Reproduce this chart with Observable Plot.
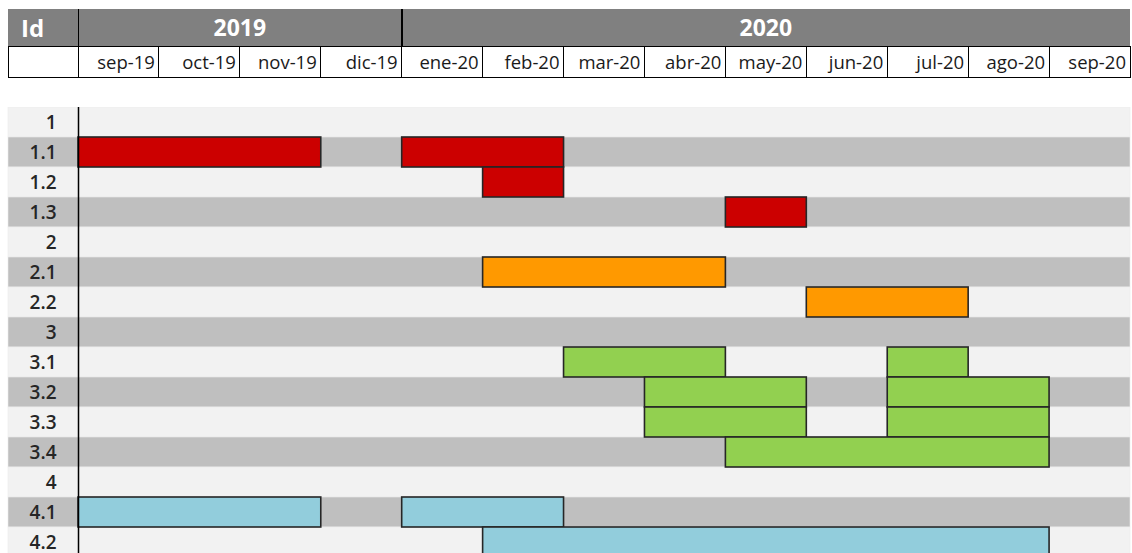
<!DOCTYPE html>
<html><head><meta charset="utf-8">
<script src="https://cdn.jsdelivr.net/npm/d3@7"></script>
<script src="https://cdn.jsdelivr.net/npm/@observablehq/plot@0.6"></script>
<style>
html,body{margin:0;padding:0;background:#fff;overflow:hidden;width:1132px;height:553px}
#wrap{position:relative;width:1132px;height:553px;font-family:"Open Sans",sans-serif}
.hd{position:absolute;box-sizing:border-box;white-space:nowrap}
</style></head><body><div id="wrap"></div>
<script>
// ---- data ----
const months = ["sep-19","oct-19","nov-19","dic-19","ene-20","feb-20","mar-20","abr-20","may-20","jun-20","jul-20","ago-20","sep-20"];
const yearLabels = ["2019","2020"];
const yearStart = [0, 4];
const yearEnd = [4, 13];
const ids = ["1","1.1","1.2","1.3","2","2.1","2.2","3","3.1","3.2","3.3","3.4","4","4.1","4.2"];
// tasks: row id, start month index, end month index (exclusive), group
const taskId    = ["1.1","1.1","1.2","1.3","2.1","2.2","3.1","3.1","3.2","3.2","3.3","3.3","3.4","4.1","4.1","4.2"];
const taskStart = [0, 4, 5, 8, 5, 9, 6, 10, 7, 10, 7, 10, 8, 0, 4, 5];
const taskEnd   = [3, 6, 6, 9, 8, 11, 8, 11, 9, 12, 9, 12, 12, 3, 6, 12];
const taskGroup = ["1","1","1","1","2","2","3","3","3","3","3","3","3","4","4","4"];
const palette = {"1":"#cc0000","2":"#ff9900","3":"#92d050","4":"#92cddc"};

(function(){
const tasks = taskId.map((id,i)=>({id, start:taskStart[i], end:taskEnd[i], group:taskGroup[i]}));

const wrap = document.getElementById("wrap");

const plot = Plot.plot({
  width:1132, height:450,
  marginLeft:8, marginRight:2, marginTop:0, marginBottom:0,
  x:{domain:[0,13], range:[78,1130], axis:null},
  y:{domain:ids, padding:0, axis:null},
  color:{type:"identity"},
  style:{fontFamily:"'Open Sans', sans-serif", background:"transparent"},
  marks:[
    Plot.cell(ids, {y:d=>d, fill:(d,i)=> i%2 ? "#bfbfbf" : "#f2f2f2", stroke:"#ececec", strokeWidth:0.6}),
    Plot.text(ids, {y:d=>d, text:d=>d, frameAnchor:"left", dx:48, textAnchor:"end", fill:"#262626", fontSize:19, fontWeight:600}),
    Plot.barX(tasks, {x1:"start", x2:"end", y:"id", fill:d=>palette[d.group], stroke:"#262626", strokeWidth:1.6}),
    Plot.ruleX([0], {stroke:"#000", strokeWidth:1.5})
  ]
});
plot.style.position = "absolute";
plot.style.left = "0px";
plot.style.top = "107px";
wrap.appendChild(plot);

// ---- header table positioned with the plot's x scale ----
const xs = plot.scale("x");
const X = v => xs.apply(v);
function div(css, text){
  const d = document.createElement("div");
  d.className = "hd";
  Object.assign(d.style, css);
  if (text != null) d.textContent = text;
  wrap.appendChild(d);
  return d;
}
const L = 8, R = X(13), T = 9, M = 46, B = 77;
// gray band
div({left:L+"px", top:T+"px", width:(R-L)+"px", height:(M-T)+"px", background:"#808080"});
// Id
div({left:(L+13)+"px", top:T+"px", height:(M-T)+"px", lineHeight:(M-T)+"px", color:"#fff", fontWeight:"700", fontSize:"24px"}, "Id");
// years
yearLabels.forEach((y,i)=>{
  const a = X(yearStart[i]), b = X(yearEnd[i]);
  div({left:a+"px", top:T+"px", width:(b-a)+"px", height:(M-T)+"px", lineHeight:(M-T)+"px", textAlign:"center", color:"#fff", fontWeight:"700", fontSize:"23px"}, y);
});
// month row box
div({left:L+"px", top:M+"px", width:(R-L+1)+"px", height:(B-M+1)+"px", border:"1px solid #000", background:"#fff"});
// month labels + dividers
months.forEach((m,i)=>{
  const a = X(i), b = X(i+1);
  div({left:a+"px", top:(M+1)+"px", width:(b-a-4)+"px", height:(B-M-1)+"px", lineHeight:(B-M-1)+"px", textAlign:"right", color:"#1a1a1a", fontSize:"18.5px"}, m);
  div({left:(a-0.5)+"px", top:M+"px", width:"1px", height:(B-M+1)+"px", background:"#000"});
});
// year dividers through gray band
yearStart.forEach(s=>{
  div({left:(X(s)-0.5)+"px", top:T+"px", width:"1.5px", height:(M-T)+"px", background:"#000"});
});
})();
</script>
</body></html>
